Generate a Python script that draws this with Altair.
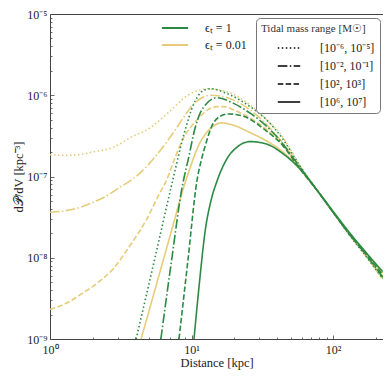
import altair as alt
import pandas as pd

GREEN = "#2b8a44"
YELLOW = "#e6cc79"
FONT = "Liberation Serif"

eps_labels = ["ϵₜ = 1", "ϵₜ = 0.01"]
mass_labels = ["[10⁻⁶, 10⁻⁵]", "[10⁻², 10⁻¹]", "[10², 10³]", "[10⁶, 10⁷]"]

# eps = 0.01 (yellow)
d_y_dot = [1, 1.3, 1.6, 2.0, 2.8, 3.9, 4.8, 6.8, 9.4, 12.9, 17.8, 25.9, 33.8, 44.2, 57.8, 77.8, 100, 129, 170, 224]
p_y_dot = [1.85e-7, 1.82e-7, 1.86e-7, 2.00e-7, 2.29e-7, 3.16e-7, 3.72e-7, 6.03e-7, 1.00e-6, 1.20e-6,
           1.10e-6, 7.59e-7, 5.01e-7, 3.02e-7, 1.38e-7, 6.61e-8, 3.63e-8, 1.95e-8, 1.05e-8, 5.37e-9]

d_y_dd = [1, 1.3, 1.63, 2.0, 2.5, 3.2, 3.85, 4.8, 6.0, 7.3, 8.8, 10.1, 11.6, 13.6, 16, 19.8, 25.9, 33.8, 44.2,
          57.8, 77.8, 100, 129, 170, 224]
p_y_dd = [3.63e-8, 3.80e-8, 4.17e-8, 4.79e-8, 5.75e-8, 7.59e-8, 9.33e-8, 1.32e-7, 2.09e-7, 3.31e-7, 5.37e-7,
          7.41e-7, 9.12e-7, 1.00e-6, 9.77e-7, 8.71e-7, 6.61e-7, 4.37e-7, 2.57e-7, 1.32e-7, 6.61e-8, 3.63e-8,
          2.00e-8, 1.07e-8, 5.62e-9]

d_y_da = [1, 1.3, 1.63, 2.2, 2.79, 3.64, 4.77, 5.9, 6.6, 7.6, 8.8, 10, 11.5, 13, 15.1, 17, 19.8, 25.9, 33.8,
          44.2, 57.8, 77.8, 100, 129, 170, 224]
p_y_da = [2.31e-9, 2.75e-9, 3.49e-9, 5.01e-9, 7.28e-9, 1.38e-8, 2.89e-8, 6.04e-8, 8.71e-8, 1.66e-7, 3.02e-7,
          4.17e-7, 5.50e-7, 6.61e-7, 7.24e-7, 7.24e-7, 6.61e-7, 5.25e-7, 3.80e-7, 2.40e-7, 1.26e-7, 6.61e-8,
          3.63e-8, 2.00e-8, 1.10e-8, 6.03e-9]

d_y_so = [4.4, 5.5, 7.0, 9.07, 9.57, 10.6, 11.5, 12.5, 14, 16.4, 19.8, 25.9, 33.8, 44.2, 57.8, 77.8, 100, 129,
          170, 224]
p_y_so = [1.00e-9, 3.98e-9, 1.78e-8, 8.71e-8, 1.15e-7, 1.91e-7, 2.63e-7, 3.31e-7, 4.07e-7, 4.57e-7, 4.27e-7,
          3.47e-7, 2.75e-7, 2.00e-7, 1.26e-7, 6.61e-8, 3.63e-8, 2.04e-8, 1.15e-8, 6.46e-9]

# eps = 1 (green)
d_g_dot = [4.06, 5.5, 7.33, 8.9, 10.4, 12.2, 13.6, 17.8, 25.9, 33.8, 44.2, 57.8, 77.8, 100, 129, 170, 224]
p_g_dot = [1.00e-9, 9.77e-9, 8.71e-8, 3.47e-7, 7.94e-7, 1.15e-6, 1.20e-6, 1.05e-6, 7.24e-7, 5.01e-7, 2.88e-7,
           1.38e-7, 6.61e-8, 3.63e-8, 1.95e-8, 1.05e-8, 5.50e-9]

d_g_dd = [6.07, 7.2, 8.6, 9.5, 10.6, 11.5, 12.5, 15.1, 19.8, 25.9, 33.8, 44.2, 57.8, 77.8, 100, 129, 170, 224]
p_g_dd = [1.00e-9, 8.91e-9, 7.59e-8, 1.66e-7, 3.98e-7, 6.03e-7, 7.59e-7, 9.33e-7, 7.94e-7, 6.03e-7, 4.17e-7,
          2.51e-7, 1.32e-7, 6.61e-8, 3.63e-8, 2.00e-8, 1.10e-8, 5.75e-9]

d_g_da = [8.15, 9.4, 10.9, 11.7, 12.5, 13.9, 15.9, 18.2, 23.3, 33.8, 44.2, 57.8, 77.8, 100, 129, 170, 224]
p_g_da = [1.00e-9, 8.91e-9, 8.71e-8, 1.58e-7, 2.40e-7, 4.17e-7, 5.50e-7, 5.89e-7, 5.50e-7, 3.63e-7, 2.40e-7,
          1.26e-7, 6.61e-8, 3.63e-8, 2.00e-8, 1.12e-8, 6.17e-9]

d_g_so = [10.4, 11.3, 12.5, 13.7, 15.1, 17.8, 20.9, 25.9, 33.8, 44.2, 57.8, 77.8, 100, 129, 170, 224]
p_g_so = [1.00e-9, 4.47e-9, 2.19e-8, 5.01e-8, 8.71e-8, 1.66e-7, 2.29e-7, 2.69e-7, 2.51e-7, 1.91e-7, 1.26e-7,
          6.61e-8, 3.72e-8, 2.09e-8, 1.17e-8, 6.76e-9]

x_major = [1, 10, 100]
x_minor = [2, 3, 4, 5, 6, 7, 8, 9, 20, 30, 40, 50, 60, 70, 80, 90, 200]
y_major = [1e-9, 1e-8, 1e-7, 1e-6, 1e-5]
y_minor = [k * 10.0 ** n for n in range(-9, -5) for k in range(2, 10)]
y_major_text = ["10⁻⁹", "10⁻⁸", "10⁻⁷", "10⁻⁶", "10⁻⁵"]
x_major_text = ["10⁰", "10¹", "10²"]

series = [
    (eps_labels[1], mass_labels[0], d_y_dot, p_y_dot),
    (eps_labels[1], mass_labels[1], d_y_dd, p_y_dd),
    (eps_labels[1], mass_labels[2], d_y_da, p_y_da),
    (eps_labels[1], mass_labels[3], d_y_so, p_y_so),
    (eps_labels[0], mass_labels[0], d_g_dot, p_g_dot),
    (eps_labels[0], mass_labels[1], d_g_dd, p_g_dd),
    (eps_labels[0], mass_labels[2], d_g_da, p_g_da),
    (eps_labels[0], mass_labels[3], d_g_so, p_g_so),
]
rows = []
for i, (e, m, ds, ps) in enumerate(series):
    for d, p in zip(ds, ps):
        rows.append({"eps": e, "mass": m, "d": d, "p": p, "sid": i})
df = pd.DataFrame(rows)

W, H = 333, 325
xs = alt.Scale(type="log", domain=[1, 225], nice=False)
ys = alt.Scale(type="log", domain=[1e-9, 1e-5], nice=False)

x_expr = " : ".join(f"datum.value == {v} ? '{t}'" for v, t in zip(x_major[:-1], x_major_text[:-1])) + f" : '{x_major_text[-1]}'"
y_expr = " : ".join(
    f"round(log(datum.value)/LN10) == {n} ? '{t}'" for n, t in zip(range(-9, -5), y_major_text[:-1])
) + f" : '{y_major_text[-1]}'"

label_x = alt.Axis(values=x_major, labelExpr=x_expr, ticks=False, domain=False, grid=False,
                   labelFlush=False, labelPadding=5, titlePadding=1, titleFontSize=12.5)
label_y = alt.Axis(values=y_major, labelExpr=y_expr, ticks=False, domain=False, grid=False,
                   labelFlush=False, labelPadding=3, titlePadding=1, titleFontSize=12.5)

color_enc = alt.Color(
    "eps:N",
    scale=alt.Scale(domain=eps_labels, range=[GREEN, YELLOW]),
    legend=alt.Legend(title=None, orient="none", legendX=111, legendY=8, symbolType="M-3,0H3",
                      symbolSize=76, symbolStrokeWidth=2, symbolOffset=8, labelOffset=24,
                      rowPadding=5, padding=0, labelFontSize=12, labelColor="#222"),
)
dash_enc = alt.StrokeDash(
    "mass:N",
    scale=alt.Scale(domain=mass_labels,
                    range=[[1.5, 2.5], [9.6, 2.4, 1.5, 2.4], [5.5, 2.4], [1, 0]]),
    legend=alt.Legend(title="Tidal mass range [M☉]", orient="none", legendX=206, legendY=4,
                      symbolType="M-3,0H3", symbolSize=56, symbolStrokeColor="black",
                      symbolStrokeWidth=1.5, symbolOffset=22, labelOffset=25,
                      strokeColor="#777", cornerRadius=4, fillColor="white", padding=5,
                      titleFontWeight="normal", titleFontSize=11, labelFontSize=12,
                      labelColor="#222", rowPadding=6, titlePadding=8),
)

def lines(eps, xaxis, yaxis):
    return alt.Chart(df).transform_filter(alt.datum.eps == eps).mark_line(
        strokeWidth=1.6, clip=True, interpolate="monotone"
    ).encode(
        x=alt.X("d:Q", scale=xs, axis=xaxis, title="Distance [kpc]"),
        y=alt.Y("p:Q", scale=ys, axis=yaxis, title="d𝒫/dV [kpc⁻³]"),
        color=color_enc,
        strokeDash=dash_enc,
        detail="sid:N",
    )

yellow = lines(eps_labels[1], label_x, label_y)
green = lines(eps_labels[0], None, None)

def ticks(xv, yv, size):
    return alt.Chart(df).mark_point(opacity=0).encode(
        x=alt.X("d:Q", scale=xs, title="",
                axis=alt.Axis(orient="top", offset=-H, values=xv, labels=False, domain=False,
                              grid=False, tickSize=size, tickColor="#444", tickWidth=0.8)),
        y=alt.Y("p:Q", scale=ys, title="",
                axis=alt.Axis(orient="right", offset=-W, values=yv, labels=False, domain=False,
                              grid=False, tickSize=size, tickColor="#444", tickWidth=0.8)),
    )

chart = alt.layer(yellow, green, ticks(x_major, y_major, 4), ticks(x_minor, y_minor, 2)).resolve_axis(
    x="independent", y="independent"
).properties(
    width=W, height=H,
    autosize=alt.AutoSizeParams(type="none"),
    padding={"left": 42, "top": 6, "right": 0, "bottom": 32},
).configure_view(
    stroke="#444", strokeWidth=1
).configure_axis(
    labelFont=FONT, titleFont=FONT, labelFontSize=12, titleFontSize=13,
    titleFontWeight="normal", labelColor="#222", titleColor="#222"
).configure_legend(
    labelFont=FONT, titleFont=FONT, labelColor="#222", titleColor="#333"
)

chart.save("out.html", embed_options={"renderer": "svg", "actions": False})
